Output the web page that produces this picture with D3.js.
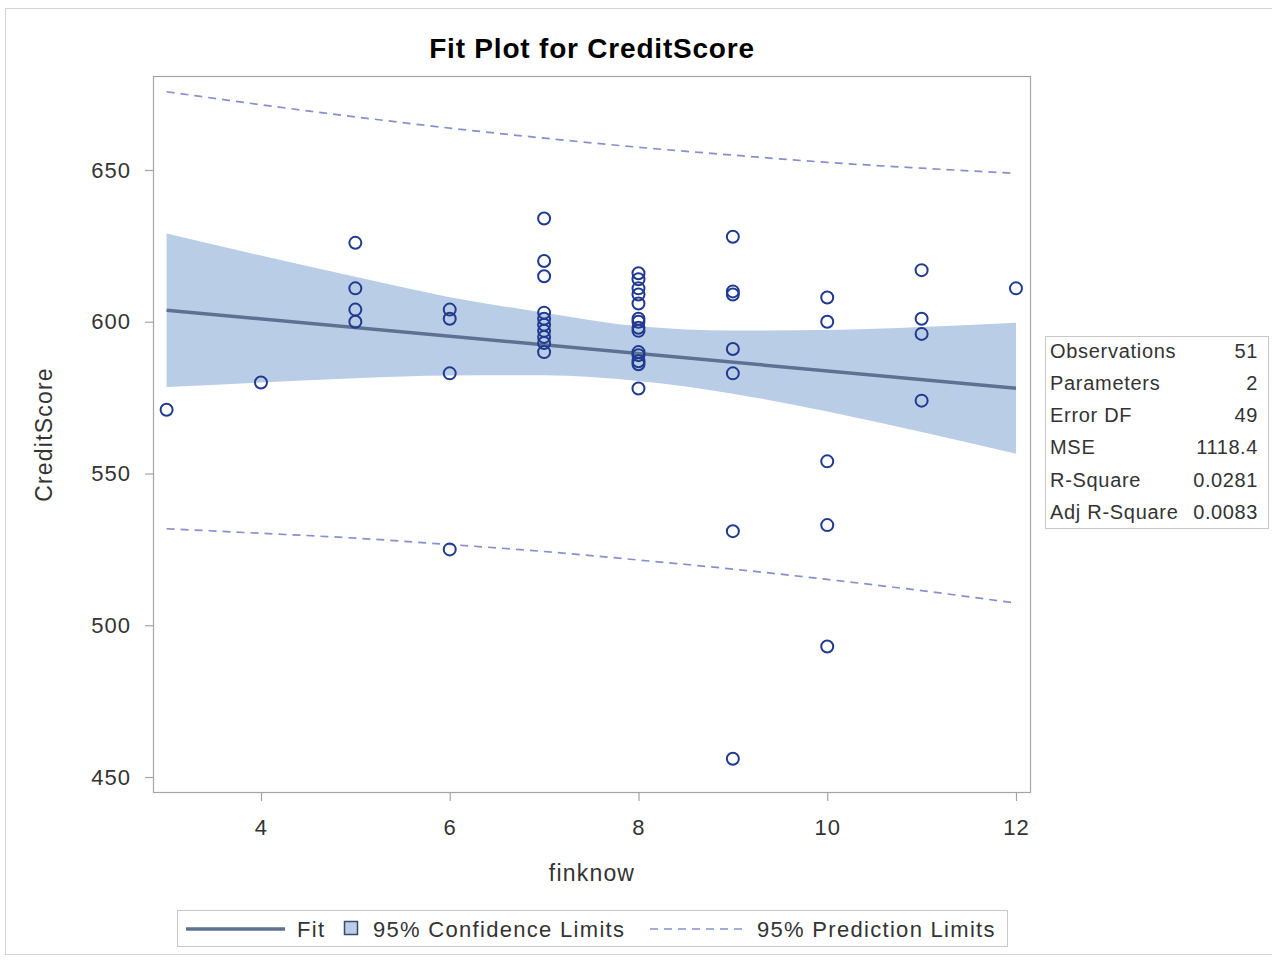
<!DOCTYPE html>
<html>
<head>
<meta charset="utf-8">
<script src="https://cdn.jsdelivr.net/npm/d3@7"></script>
<style>
  html, body { margin: 0; padding: 0; background: #fff; }
  svg { display: block; }
  text { font-family: "Liberation Sans", Arial, sans-serif; }
</style>
</head>
<body>
<svg id="chart" width="1272" height="961"></svg>
<script>
// ---- Data ----
const finknow = [3, 4, 5, 5, 5, 5, 6, 6, 6, 6,
  7, 7, 7, 7, 7, 7, 7, 7, 7, 7,
  8, 8, 8, 8, 8, 8, 8, 8, 8, 8, 8, 8, 8, 8,
  9, 9, 9, 9, 9, 9, 9,
  10, 10, 10, 10, 10,
  11, 11, 11, 11,
  12];
const creditScore = [571, 580, 626, 611, 604, 600, 604, 601, 583, 525,
  634, 620, 615, 603, 601, 599, 597, 595, 593, 590,
  616, 614, 611, 609, 606, 601, 600, 598, 597, 590, 589, 587, 586, 578,
  628, 610, 609, 591, 583, 531, 456,
  608, 600, 554, 533, 493,
  617, 601, 596, 574,
  611];

const fitX = [3, 12];
const fitY = [603.8, 578.1];

const bandX = [3, 4, 5, 6, 7, 8, 9, 10, 11, 12];
const clUpper = [629.1, 621.8, 614.8, 608.1, 603.0, 598.5, 597.1, 597.3, 598.3, 599.7];
const clLower = [578.5, 580.0, 581.4, 582.3, 582.4, 580.5, 576.3, 570.4, 563.7, 556.5];
const plUpper = [675.8, 671.5, 667.5, 663.8, 660.5, 657.5, 654.9, 652.5, 650.6, 648.9];
const plLower = [531.8, 530.3, 528.7, 526.6, 524.3, 521.5, 518.5, 515.1, 511.4, 507.3];

const xTicks = [4, 6, 8, 10, 12];
const yTicks = [450, 500, 550, 600, 650];

const statLabels = ["Observations", "Parameters", "Error DF", "MSE", "R-Square", "Adj R-Square"];
const statValues = ["51", "2", "49", "1118.4", "0.0281", "0.0083"];

const legendLabels = ["Fit", "95% Confidence Limits", "95% Prediction Limits"];

// ---- Layout ----
const svg = d3.select("#chart");
const L = 153, R = 1031, T = 76, B = 793;
const COL_MARK = "#1f3a8f";
const COL_BAND = "#b9cde7";
const COL_FIT = "#5f7192";
const COL_PRED = "#8890cc";
const COL_FRAME = "#a4a4a4";
const COL_TEXT = "#333333";

// outer border
svg.append("rect").attr("x", 5.5).attr("y", 8.5).attr("width", 1300).attr("height", 946)
  .attr("fill", "none").attr("stroke", "#d4d4d4").attr("stroke-width", 1);

const x = d3.scaleLinear().domain([2.856, 12.159]).range([L, R]);
const y = d3.scaleLinear().domain([444.73, 680.97]).range([B, T]);

// title
svg.append("text").attr("x", (L + R) / 2).attr("y", 58)
  .attr("text-anchor", "middle").attr("font-size", 28).attr("font-weight", "bold")
  .attr("letter-spacing", 0.8).attr("fill", "#000")
  .text("Fit Plot for CreditScore");

// clip
svg.append("clipPath").attr("id", "clip").append("rect")
  .attr("x", L).attr("y", T).attr("width", R - L).attr("height", B - T);
const g = svg.append("g").attr("clip-path", "url(#clip)");

// CI band
const bandData = bandX.map((v, i) => ({ x: v, lo: clLower[i], hi: clUpper[i] }));
g.append("path").datum(bandData)
  .attr("fill", COL_BAND)
  .attr("d", d3.area().x(d => x(d.x)).y0(d => y(d.lo)).y1(d => y(d.hi)).curve(d3.curveMonotoneX));

// prediction limits
[plUpper, plLower].forEach(arr => {
  g.append("path").datum(bandX.map((v, i) => ({ x: v, y: arr[i] })))
    .attr("fill", "none").attr("stroke", COL_PRED).attr("stroke-width", 1.7)
    .attr("stroke-dasharray", "8,6")
    .attr("d", d3.line().x(d => x(d.x)).y(d => y(d.y)).curve(d3.curveMonotoneX));
});

// fit line
g.append("path").datum(fitX.map((v, i) => ({ x: v, y: fitY[i] })))
  .attr("fill", "none").attr("stroke", COL_FIT).attr("stroke-width", 3.5)
  .attr("d", d3.line().x(d => x(d.x)).y(d => y(d.y)));

// points
g.selectAll("circle.pt").data(finknow.map((v, i) => ({ x: v, y: creditScore[i] })))
  .enter().append("circle").attr("class", "pt")
  .attr("cx", d => x(d.x)).attr("cy", d => y(d.y)).attr("r", 6)
  .attr("fill", "none").attr("stroke", COL_MARK).attr("stroke-width", 2);

// frame
svg.append("rect").attr("x", L + 0.5).attr("y", T + 0.5).attr("width", R - L - 1).attr("height", B - T - 1)
  .attr("fill", "none").attr("stroke", COL_FRAME).attr("stroke-width", 1.2);

// axes
const yAxis = d3.axisLeft(y).tickValues(yTicks).tickSize(8).tickPadding(14);
const yg = svg.append("g").attr("transform", `translate(${L},0)`).call(yAxis);
const xAxis = d3.axisBottom(x).tickValues(xTicks).tickSize(8).tickPadding(18);
const xg = svg.append("g").attr("transform", `translate(0,${B})`).call(xAxis);
[yg, xg].forEach(ax => {
  ax.select(".domain").remove();
  ax.selectAll(".tick line").attr("stroke", COL_FRAME).attr("stroke-width", 1.2);
  ax.selectAll(".tick text").attr("font-size", 22).attr("fill", COL_TEXT)
    .attr("font-family", "Liberation Sans, Arial, sans-serif").attr("letter-spacing", 1);
});

// axis labels
svg.append("text").attr("x", (L + R) / 2).attr("y", 881).attr("text-anchor", "middle")
  .attr("font-size", 23).attr("letter-spacing", 1.2).attr("fill", COL_TEXT).text("finknow");
svg.append("text").attr("transform", `translate(52,${(T + B) / 2}) rotate(-90)`)
  .attr("text-anchor", "middle").attr("font-size", 23).attr("letter-spacing", 1.2)
  .attr("fill", COL_TEXT).text("CreditScore");

// stats table
const sx0 = 1045, sy0 = 336, sw = 223, sh = 192;
svg.append("rect").attr("x", sx0 + 0.5).attr("y", sy0 + 0.5).attr("width", sw).attr("height", sh)
  .attr("fill", "#fff").attr("stroke", "#c8c8c8").attr("stroke-width", 1);
statLabels.forEach((lab, i) => {
  const yy = 357.5 + i * 32.3;
  svg.append("text").attr("x", 1050).attr("y", yy).attr("font-size", 20)
    .attr("letter-spacing", 0.7).attr("fill", COL_TEXT).text(lab);
  svg.append("text").attr("x", 1258).attr("y", yy).attr("font-size", 20).attr("text-anchor", "end")
    .attr("letter-spacing", 0.6).attr("fill", COL_TEXT).text(statValues[i]);
});

// legend
const lg = svg.append("g");
lg.append("rect").attr("x", 177.5).attr("y", 910.5).attr("width", 830).attr("height", 36)
  .attr("fill", "#fff").attr("stroke", "#c8c8c8").attr("stroke-width", 1);
const ly = 929;
lg.append("line").attr("x1", 186).attr("x2", 285).attr("y1", ly).attr("y2", ly)
  .attr("stroke", COL_FIT).attr("stroke-width", 3.5);
lg.append("text").attr("x", 297).attr("y", ly + 8).attr("font-size", 22).attr("letter-spacing", 1.3)
  .attr("fill", COL_TEXT).text(legendLabels[0]);
lg.append("rect").attr("x", 344.5).attr("y", ly - 7.5).attr("width", 13).attr("height", 13)
  .attr("fill", COL_BAND).attr("stroke", "#3b4a6b").attr("stroke-width", 1.5);
lg.append("text").attr("x", 373).attr("y", ly + 8).attr("font-size", 22).attr("letter-spacing", 1.3)
  .attr("fill", COL_TEXT).text(legendLabels[1]);
lg.append("line").attr("x1", 650).attr("x2", 742).attr("y1", ly).attr("y2", ly)
  .attr("stroke", COL_PRED).attr("stroke-width", 1.7).attr("stroke-dasharray", "8,6");
lg.append("text").attr("x", 757).attr("y", ly + 8).attr("font-size", 22).attr("letter-spacing", 1.3)
  .attr("fill", COL_TEXT).text(legendLabels[2]);
</script>
</body>
</html>
